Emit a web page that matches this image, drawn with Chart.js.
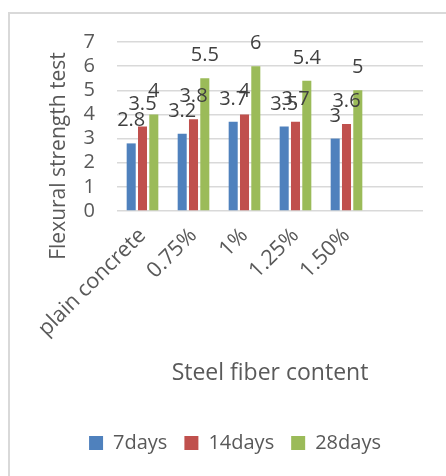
<!DOCTYPE html>
<html><head><meta charset="utf-8">
<script src="https://cdn.jsdelivr.net/npm/chart.js@4/dist/chart.umd.min.js"></script>
<style>html,body{margin:0;padding:0;background:#fff;overflow:hidden}#c{display:block}</style>
</head><body>
<canvas id="c" width="446" height="476"></canvas>
<script>
const categories = ['plain concrete', '0.75%', '1%', '1.25%', '1.50%', ''];
const days7 = [2.8, 3.2, 3.7, 3.5, 3.0, null];
const days14 = [3.5, 3.8, 4.0, 3.7, 3.6, null];
const days28 = [4.0, 5.5, 6.0, 5.4, 5.0, null];
const seriesNames = ['7days', '14days', '28days'];
const yTickValues = [0, 1, 2, 3, 4, 5, 6, 7];
const yTitle = 'Flexural strength test';
const xTitle = 'Steel fiber content';

const FONT = "'Open Sans', 'Noto Sans', sans-serif";
Chart.defaults.font.family = FONT;

const framePlugin = {
  id: 'frame',
  beforeDraw(chart) {
    const ctx = chart.ctx;
    ctx.save();
    ctx.fillStyle = '#fff';
    ctx.fillRect(0, 0, chart.width, chart.height);
    ctx.strokeStyle = '#d9d9d9';
    ctx.lineWidth = 2;
    ctx.beginPath();
    ctx.moveTo(9, chart.height + 5);
    ctx.lineTo(9, 13);
    ctx.lineTo(chart.width + 5, 13);
    ctx.stroke();
    ctx.restore();
  }
};

const labelPlugin = {
  id: 'valueLabels',
  afterDatasetsDraw(chart) {
    const ctx = chart.ctx;
    ctx.save();
    ctx.font = '20px ' + FONT;
    ctx.fillStyle = '#404040';
    ctx.textAlign = 'center';
    ctx.textBaseline = 'alphabetic';
    chart.data.datasets.forEach((ds, di) => {
      const meta = chart.getDatasetMeta(di);
      meta.data.forEach((el, i) => {
        const v = ds.data[i];
        if (v === null || v === undefined) return;
        ctx.fillText(String(v), el.x, el.y - 17);
      });
    });
    ctx.restore();
  }
};

const yTitlePlugin = {
  id: 'yTitle',
  afterDraw(chart) {
    const ctx = chart.ctx;
    ctx.save();
    ctx.font = '21px ' + FONT;
    ctx.fillStyle = '#595959';
    ctx.textAlign = 'center';
    ctx.textBaseline = 'middle';
    ctx.translate(59, 156);
    ctx.rotate(-Math.PI / 2);
    ctx.fillText(yTitle, 0, 0);
    ctx.restore();
  }
};

new Chart(document.getElementById('c'), {
  type: 'bar',
  data: {
    labels: categories,
    datasets: [
      { label: seriesNames[0], data: days7, backgroundColor: '#4F81BD' },
      { label: seriesNames[1], data: days14, backgroundColor: '#C0504D' },
      { label: seriesNames[2], data: days28, backgroundColor: '#9BBB59' }
    ]
  },
  options: {
    responsive: false,
    animation: false,
    devicePixelRatio: 1,
    layout: { padding: { left: 47, right: 23, top: 42, bottom: 13 } },
    datasets: { bar: { categoryPercentage: 0.665, barPercentage: 0.8 } },
    plugins: {
      tooltip: { enabled: false },
      legend: {
        position: 'bottom',
        labels: {
          boxWidth: 14, boxHeight: 14, padding: 17,
          color: '#595959', font: { size: 20, family: FONT }
        }
      }
    },
    scales: {
      x: {
        grid: { display: false, drawTicks: false },
        border: { display: false },
        ticks: {
          autoSkip: false, minRotation: 45, maxRotation: 45, padding: 12,
          color: '#595959', font: { size: 21.5, family: FONT }
        },
        title: {
          display: true, text: xTitle, color: '#595959',
          font: { size: 23, family: FONT }, padding: { top: 0, bottom: 29 }
        },
        afterFit(scale) { scale.height = 205; }
      },
      y: {
        min: 0, max: 7,
        afterBuildTicks(scale) { scale.ticks = yTickValues.map(v => ({ value: v })); },
        grid: { color: '#d9d9d9', lineWidth: 1.5, drawTicks: false },
        border: { display: false },
        ticks: { autoSkip: false, stepSize: 1, padding: 22, color: '#595959', font: { size: 20, family: FONT } },
        afterFit(scale) { scale.width = 70; }
      }
    }
  },
  plugins: [framePlugin, labelPlugin, yTitlePlugin]
});
</script>
</body></html>
